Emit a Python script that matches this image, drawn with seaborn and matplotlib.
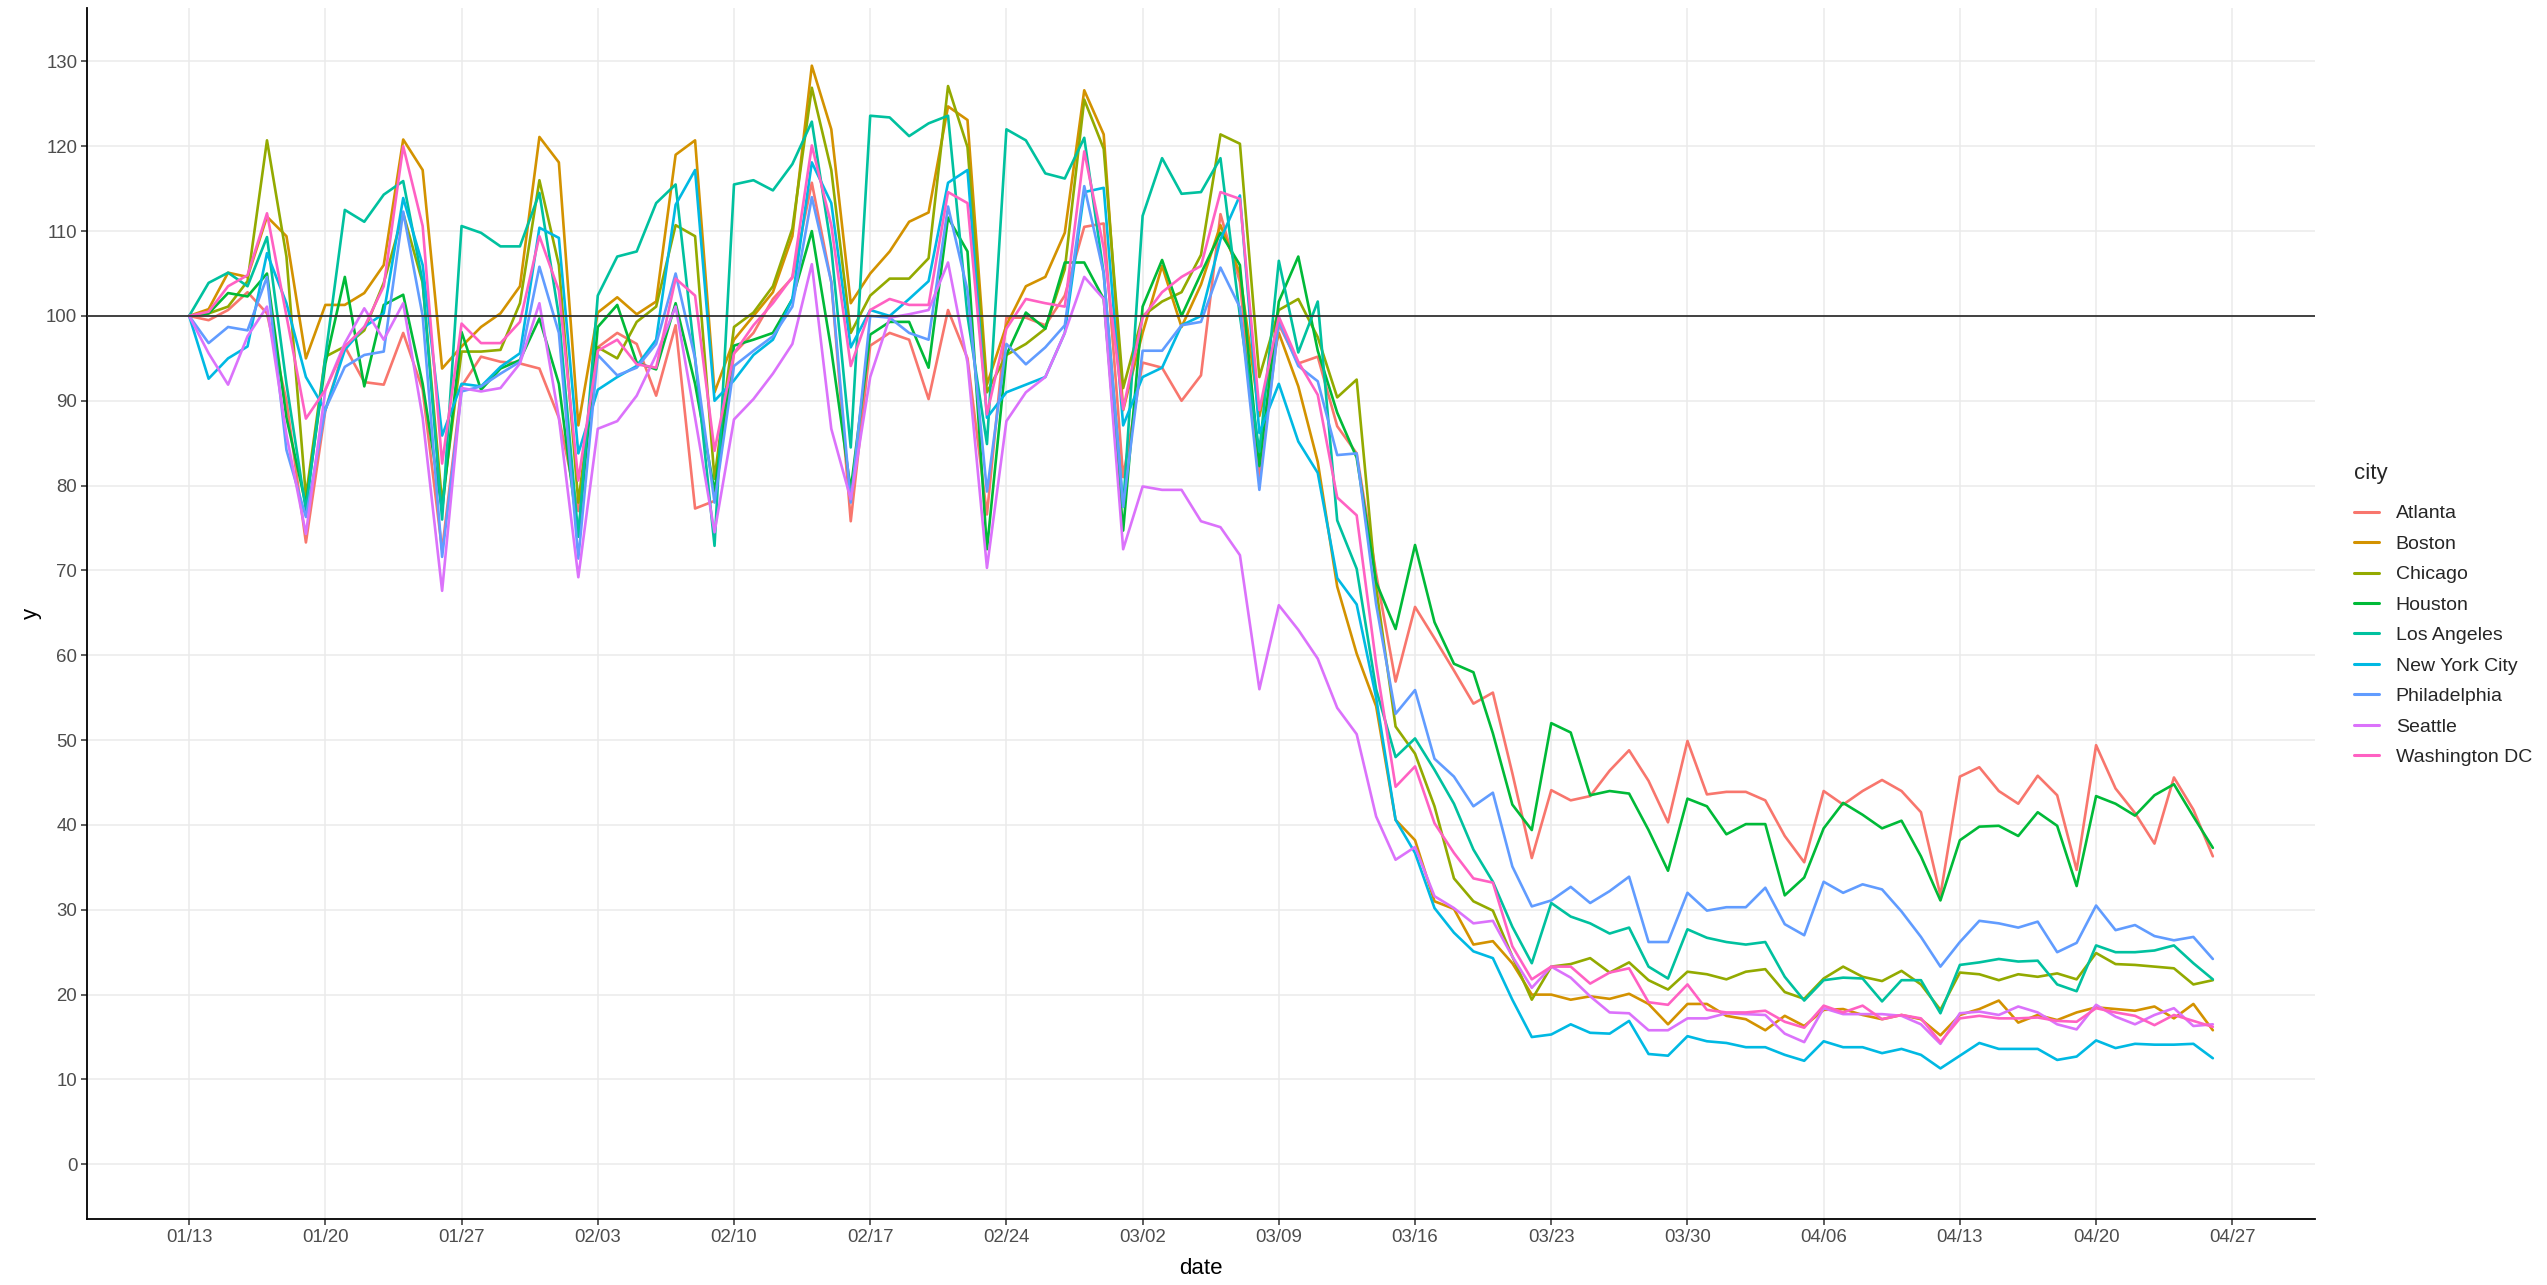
import numpy as np
import pandas as pd
import seaborn as sns
import matplotlib
matplotlib.use("Agg")
import matplotlib.pyplot as plt
import matplotlib.dates as mdates

# daily index, 100 = baseline on 01/13 (2020)
start_date = "2020-01-13"
n_days = 105

atlanta = [100, 99.5, 100.7, 102.8, 100.3, 90, 73.3, 88.9, 96.4, 92.2, 91.9, 98, 91.3, 72.4,
           91.7, 95.2, 94.6, 94.4, 93.8, 88, 77, 96.3, 98, 96.7, 90.6, 98.9, 77.3, 78.2,
           95.6, 98, 102, 104.5, 115.7, 104, 75.8, 96.5, 98, 97.2, 90.2, 100.7, 95, 76.6,
           99.8, 99.8, 98.9, 102.4, 110.5, 110.9, 81, 94.5, 93.9, 90, 93, 112, 104, 81,
           99, 94.4, 95.2, 87, 83.8, 69.6, 56.9, 65.7, 62, 58.2, 54.3, 55.6, 46.1, 36.1,
           44.1, 42.9, 43.4, 46.4, 48.8, 45.2, 40.3, 49.9, 43.6, 43.9, 43.9, 42.9, 38.7, 35.6,
           44, 42.4, 44, 45.3, 44, 41.5, 31.7, 45.7, 46.8, 44, 42.5, 45.8, 43.5, 34.7,
           49.4, 44.3, 41.4, 37.8, 45.6, 41.8, 36.3]
boston = [100, 100.8, 105.1, 104.6, 111.7, 109.4, 95, 101.3, 101.3, 102.7, 106, 120.8, 117.2, 93.8,
          96.4, 98.7, 100.3, 103.5, 121.1, 118.1, 87.1, 100.4, 102.2, 100.2, 101.7, 119, 120.7, 91,
          97.2, 100, 102.8, 109.4, 129.5, 122, 101.5, 105, 107.6, 111.1, 112.2, 124.7, 123.1, 91.9,
          98.9, 103.5, 104.6, 109.8, 126.6, 121.4, 88.9, 98, 105.9, 98.7, 103.7, 110.7, 105, 88.2,
          98, 91.7, 82.8, 68.1, 60.2, 54, 40.6, 38.2, 31, 30.1, 25.9, 26.3, 23.7, 20,
          20, 19.4, 19.8, 19.5, 20.1, 18.9, 16.5, 18.9, 18.9, 17.5, 17.1, 15.8, 17.5, 16.3,
          18.2, 18.3, 17.6, 17.1, 17.6, 17.1, 15.2, 17.6, 18.3, 19.3, 16.7, 17.6, 17, 17.9,
          18.5, 18.3, 18.1, 18.6, 17.2, 18.9, 15.8]
chicago = [100, 100.3, 101.1, 104.1, 120.7, 107, 78.7, 95.2, 96.4, 98.3, 103.9, 112.1, 103.9, 77.9,
           95.8, 95.8, 96, 101.5, 116, 106, 78, 96.3, 95, 99.3, 101.1, 110.7, 109.4, 80.8,
           98.7, 100.4, 103.5, 110.3, 126.9, 117.2, 98, 102.4, 104.4, 104.4, 106.8, 127.1, 119.9, 91,
           95.4, 96.7, 98.5, 105.5, 125.5, 119.7, 91.5, 100, 101.7, 102.8, 107.2, 121.4, 120.3, 92.8,
           100.7, 102, 97.5, 90.4, 92.5, 68, 51.6, 48.4, 42.2, 33.7, 31, 29.9, 24.5, 19.4,
           23.3, 23.6, 24.3, 22.6, 23.8, 21.7, 20.6, 22.7, 22.4, 21.8, 22.7, 23, 20.3, 19.5,
           21.9, 23.3, 22.1, 21.6, 22.8, 21.2, 18.2, 22.6, 22.4, 21.7, 22.4, 22.1, 22.5, 21.8,
           24.9, 23.6, 23.5, 23.3, 23.1, 21.2, 21.7]
houston = [100, 100.3, 102.7, 102.3, 105, 88, 77.7, 94.4, 104.6, 91.7, 101.3, 102.5, 92, 77.1,
           98.1, 91.3, 93.8, 94.8, 99.7, 92, 74, 98.7, 101.3, 94.5, 93.7, 101.5, 92, 79.3,
           96.5, 97.2, 98, 102, 110, 96, 79.5, 97.8, 99.3, 99.3, 93.9, 111.6, 107.6, 72.5,
           95.4, 100.4, 98.5, 106.3, 106.3, 102, 74.7, 101.1, 106.6, 100, 105, 109.8, 106, 82.3,
           101.7, 107, 95.9, 88.6, 83.3, 68.6, 63.1, 73, 63.9, 59, 58, 50.8, 42.4, 39.4,
           52, 50.9, 43.5, 44, 43.7, 39.4, 34.6, 43.1, 42.2, 38.9, 40.1, 40.1, 31.7, 33.8,
           39.6, 42.6, 41.2, 39.6, 40.5, 36.3, 31.1, 38.2, 39.8, 39.9, 38.7, 41.5, 39.9, 32.8,
           43.4, 42.5, 41.1, 43.5, 44.8, 41, 37.3]
los_angeles = [100, 103.9, 105.1, 103.5, 109.3, 92, 77.1, 95.2, 112.5, 111.1, 114.3, 115.9, 104, 76,
               110.6, 109.8, 108.2, 108.2, 114.5, 100, 74, 102.4, 107, 107.6, 113.3, 115.5, 95, 72.9,
               115.5, 116, 114.8, 117.9, 122.9, 108, 84.5, 123.6, 123.4, 121.2, 122.7, 123.6, 100, 84.9,
               122, 120.7, 116.8, 116.2, 121, 105, 77.5, 111.8, 118.6, 114.4, 114.6, 118.6, 100, 84,
               106.5, 95.7, 101.7, 75.9, 70.2, 56, 48, 50.2, 46.5, 42.5, 37.1, 33.3, 28, 23.7,
               30.8, 29.2, 28.4, 27.2, 27.9, 23.3, 21.9, 27.7, 26.7, 26.2, 25.9, 26.2, 22.1, 19.3,
               21.7, 22, 21.9, 19.2, 21.7, 21.7, 17.8, 23.5, 23.8, 24.2, 23.9, 24, 21.2, 20.4,
               25.8, 25, 25, 25.2, 25.8, 23.7, 21.8]
new_york = [100, 92.6, 95, 96.4, 107.4, 101.5, 92.8, 88.9, 96, 98.7, 100.3, 113.9, 106, 85.9,
            92, 91.7, 94, 95.6, 110.4, 109.2, 83.8, 91.3, 92.8, 94.1, 97.2, 113.1, 117.2, 90,
            92.4, 95.4, 97.2, 102, 118.1, 113.3, 96.3, 100.7, 100, 102, 104.1, 115.7, 117.2, 88,
            91, 91.9, 92.8, 98, 114.6, 115.1, 87.1, 92.8, 93.9, 98.9, 100, 109, 114.2, 86.2,
            92, 85.2, 81.5, 69.1, 66, 55, 40.6, 36.7, 30.2, 27.3, 25.1, 24.3, 19.4, 15,
            15.3, 16.5, 15.5, 15.4, 16.9, 13, 12.8, 15.1, 14.5, 14.3, 13.8, 13.8, 12.9, 12.2,
            14.5, 13.8, 13.8, 13.1, 13.6, 12.9, 11.3, 12.8, 14.3, 13.6, 13.6, 13.6, 12.3, 12.7,
            14.6, 13.7, 14.2, 14.1, 14.1, 14.2, 12.5]
philadelphia = [100, 96.8, 98.7, 98.3, 104.6, 84.2, 76.3, 89, 94, 95.4, 95.8, 112.3, 100, 71.6,
                91.1, 91.7, 93.2, 94.6, 105.8, 98, 71.4, 95.4, 93, 93.9, 96.7, 105, 95, 78,
                94.1, 95.9, 97.6, 101.1, 114, 104, 78, 100, 99.8, 98, 97.2, 112.9, 103, 79.3,
                96.7, 94.3, 96.3, 98.9, 115.3, 105, 77.5, 95.9, 95.9, 98.9, 99.3, 105.7, 101, 79.5,
                99.4, 94.1, 92.3, 83.6, 83.8, 66, 53.1, 55.9, 47.8, 45.7, 42.2, 43.8, 35.1, 30.4,
                31.1, 32.7, 30.8, 32.2, 33.9, 26.2, 26.2, 32, 29.9, 30.3, 30.3, 32.6, 28.3, 27,
                33.3, 32, 33, 32.4, 29.8, 26.8, 23.3, 26.2, 28.7, 28.4, 27.9, 28.6, 25, 26.1,
                30.5, 27.6, 28.2, 26.9, 26.4, 26.8, 24.2]
seattle = [100, 95.6, 91.9, 97.6, 101.1, 86, 74.3, 91.3, 96.8, 100.9, 97.2, 101.5, 88, 67.6,
           91.5, 91.1, 91.5, 94.4, 101.5, 88, 69.2, 86.7, 87.6, 90.6, 95.4, 101.1, 88, 74.5,
           87.8, 90.2, 93.2, 96.7, 106.1, 86.7, 78.4, 92.8, 99.8, 100.2, 100.7, 106.3, 94.5, 70.3,
           87.6, 91, 92.8, 98, 104.6, 102, 72.5, 79.9, 79.5, 79.5, 75.8, 75.1, 71.8, 56,
           65.9, 63, 59.6, 53.8, 50.7, 41, 35.9, 37.4, 31.6, 30.2, 28.4, 28.7, 24.5, 20.8,
           23.3, 22, 19.8, 17.9, 17.8, 15.8, 15.8, 17.2, 17.2, 17.8, 17.7, 17.6, 15.4, 14.4,
           18.4, 17.7, 17.7, 17.7, 17.5, 16.5, 14.2, 17.8, 18, 17.6, 18.6, 17.9, 16.5, 15.9,
           18.8, 17.4, 16.5, 17.6, 18.4, 16.3, 16.5]
washington = [100, 100.5, 103.5, 104.8, 112.1, 100, 87.9, 91.3, 96.4, 98.7, 103.5, 120, 110.6, 82.6,
              99.1, 96.8, 96.8, 99.3, 109.4, 103, 80.6, 95.9, 97.2, 94.3, 93.9, 104.4, 102.4, 84.1,
              95.6, 98.9, 101.5, 104.6, 120.1, 110.7, 94.1, 100.7, 102, 101.3, 101.3, 114.6, 113.3, 88.4,
              98.5, 102, 101.5, 101.1, 119.4, 108, 89, 99.8, 102.8, 104.6, 105.9, 114.6, 113.8, 88.9,
              99.9, 94.6, 90.7, 78.6, 76.5, 59, 44.5, 46.9, 40.2, 36.7, 33.7, 33.2, 25.7, 21.8,
              23.3, 23.3, 21.3, 22.6, 23.1, 19.1, 18.8, 21.2, 18.2, 17.9, 17.9, 18.1, 16.8, 16.1,
              18.7, 17.9, 18.7, 17.1, 17.6, 17.2, 14.4, 17.2, 17.5, 17.2, 17.2, 17.3, 16.9, 16.8,
              18.4, 17.9, 17.5, 16.4, 17.6, 16.9, 16.2]

cities = ["Atlanta", "Boston", "Chicago", "Houston", "Los Angeles",
          "New York City", "Philadelphia", "Seattle", "Washington DC"]
series = [atlanta, boston, chicago, houston, los_angeles,
          new_york, philadelphia, seattle, washington]
colors = ["#F8766D", "#D39200", "#93AA00", "#00BA38", "#00C19F",
          "#00B9E3", "#619CFF", "#DB72FB", "#FF61C3"]

dates = pd.date_range(start_date, periods=n_days)
df = pd.concat([pd.DataFrame({"date": dates, "y": vals, "city": c})
                for c, vals in zip(cities, series)], ignore_index=True)

sns.set_style("white")
plt.rcParams["font.family"] = ["Liberation Sans", "DejaVu Sans"]

W, H = 2547, 1285
fig = plt.figure(figsize=(W / 100, H / 100), dpi=100)
ax = fig.add_axes([87 / W, 1 - 1219 / H, (2315 - 87) / W, (1219 - 8) / H])

sns.lineplot(data=df, x="date", y="y", hue="city", hue_order=cities,
             palette=colors, linewidth=1.9, errorbar=None, ax=ax, legend=False)
ax.axhline(100, color="#333333", linewidth=1.3, zorder=5)

d0 = mdates.date2num(dates[0])
ax.set_xlim(d0 - 5.25, d0 + 109.25)
ax.set_ylim(-6.45, 136.3)
ax.set_yticks(np.arange(0, 131, 10))
ax.xaxis.set_major_locator(mdates.WeekdayLocator(byweekday=mdates.MO))
ax.xaxis.set_major_formatter(mdates.DateFormatter("%m/%d"))

ax.grid(True, color="#EBEBEB", linewidth=1.1)
ax.set_axisbelow(True)
for s in ["top", "right"]:
    ax.spines[s].set_visible(False)
for s in ["left", "bottom"]:
    ax.spines[s].set_color("black")
    ax.spines[s].set_linewidth(1.3)
ax.tick_params(axis="both", which="major", length=4, width=1.1, color="#333333",
               labelsize=13.4, labelcolor="#4D4D4D", pad=3, bottom=True, left=True)
ax.set_xlabel("date", fontsize=16, color="black", labelpad=9)
ax.set_ylabel("y", fontsize=16, color="black", labelpad=3)

handles = [plt.Line2D([], [], color=c, linewidth=2.2) for c in colors]
leg = fig.legend(handles, cities, title="city", loc="upper left",
                 bbox_to_anchor=(2354 / W, 1 - 463 / H), frameon=False,
                 fontsize=14, title_fontsize=16, handlelength=1.3,
                 handletextpad=0.85, labelspacing=0.66, borderpad=0, borderaxespad=0)
leg._legend_box.align = "left"
leg._legend_box.sep = 15

fig.savefig("out.png", dpi=100)
